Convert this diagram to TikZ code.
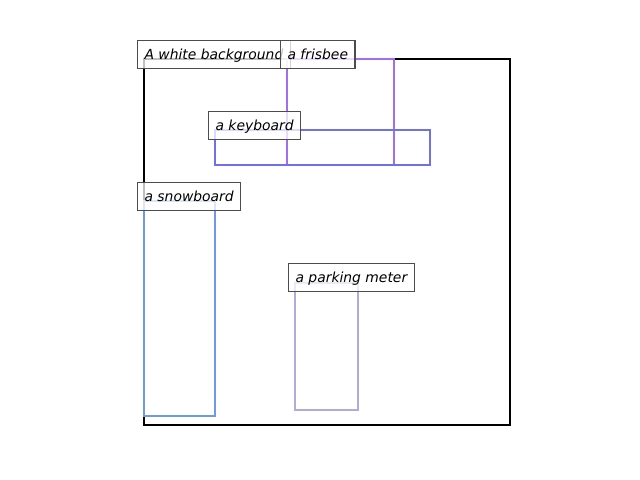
\documentclass[tikz,border=0pt]{standalone}
\usepackage{fontspec}
\newfontfamily\labelfont{DejaVu Sans}
\begin{document}
\begin{tikzpicture}[x=0.72pt,y=-0.72pt,
  bbox/.style={line width=1.9pt,line join=miter},
  lbl/.style={anchor=base west,font=\labelfont\itshape\fontsize{10pt}{12pt}\selectfont,
    fill=white,fill opacity=0.75,text opacity=1,draw=black!70,line width=0.8pt,
    inner xsep=5pt,inner ysep=4.3pt,text height=9.3pt,text depth=2.4pt,xshift=-5pt}]
\definecolor{cfris}{RGB}{162,110,240}
\definecolor{ckey}{RGB}{112,112,232}
\definecolor{csnow}{RGB}{112,150,240}
\definecolor{cpark}{RGB}{178,170,218}
\useasboundingbox (0,0) rectangle (640,480);
\draw[bbox,black] (144,59) rectangle (510,425);
\draw[bbox,cfris] (287,59) rectangle (394,165);
\draw[bbox,ckey] (215,130) rectangle (430,165);
\draw[bbox,csnow] (144,201) rectangle (215,416);
\draw[bbox,cpark] (295,283) rectangle (358,410);
\node[lbl] (lbg) at (144,59) {A white background};
\node[lbl] (lfris) at (287,59) {a frisbee};
\node[lbl] (lkey) at (215,130) {a keyboard};
\node[lbl] (lsnow) at (144,201) {a snowboard};
\node[lbl] (lpark) at (295,282) {a parking meter};
\end{tikzpicture}
\end{document}
